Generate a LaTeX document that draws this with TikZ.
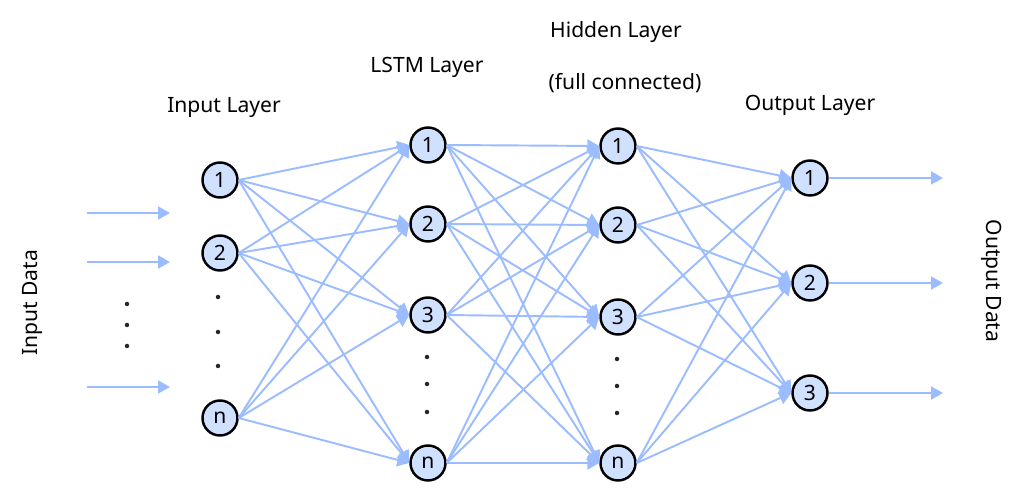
\documentclass[tikz,border=0pt]{standalone}
\usepackage{fontspec}
\setmainfont{Noto Sans}
\usetikzlibrary{arrows.meta}
\definecolor{linkblue}{RGB}{155,188,255}
\definecolor{cellfill}{RGB}{208,224,255}
\tikzstyle{neuron} = [circle, draw=black, line width=1.4pt, fill=cellfill, minimum size=0.7cm, inner sep=0pt, font=\fontsize{12}{14}\selectfont]
\tikzstyle{link} = [draw=linkblue, line width=1.1pt, -{Triangle[length=0.24cm,width=0.26cm]}]
\tikzstyle{vdot} = [circle, fill=black!85, inner sep=0pt, minimum size=0.09cm]
\tikzstyle{title} = [font=\fontsize{12}{14}\selectfont]

\begin{document}
\begin{tikzpicture}[x=0.02cm, y=-0.02cm]
\useasboundingbox (0,0) rectangle (1025,499);

% Titles
\node (tin) [title] at (224,108) {Input Layer};
\node (tls) [title] at (427,67) {LSTM Layer};
\node (thd) [title] at (616,32) {Hidden Layer};
\node (thd2) [title] at (625,83) {(full connected)};
\node (tout) [title] at (810,105) {Output Layer};
\node (indata) [title, rotate=90] at (33,303) {Input Data};
\node (outdata) [title, rotate=-90] at (992,281) {Output Data};

% Input layer
\node (in1) [neuron] at (220,180) {1};
\node (in2) [neuron] at (220,253) {2};
\node (inn) [neuron] at (220,418) {n};
\node (ind1) [vdot] at (218,297) {};
\node (ind2) [vdot] at (218,332) {};
\node (ind3) [vdot] at (218,366) {};

% LSTM layer
\node (ls1) [neuron] at (428,145) {1};
\node (ls2) [neuron] at (428,224) {2};
\node (ls3) [neuron] at (428,315) {3};
\node (lsn) [neuron] at (428,463) {n};
\node (lsd1) [vdot] at (427,357) {};
\node (lsd2) [vdot] at (427,384) {};
\node (lsd3) [vdot] at (427,412) {};

% Hidden layer
\node (hd1) [neuron] at (618,146) {1};
\node (hd2) [neuron] at (618,225) {2};
\node (hd3) [neuron] at (618,317) {3};
\node (hdn) [neuron] at (618,463) {n};
\node (hdd1) [vdot] at (617,359) {};
\node (hdd2) [vdot] at (617,386) {};
\node (hdd3) [vdot] at (617,413) {};

% Output layer
\node (out1) [neuron] at (810,178) {1};
\node (out2) [neuron] at (810,283) {2};
\node (out3) [neuron] at (810,393) {3};

% Input data
\coordinate (d1s) at (87,213);
\coordinate (d1e) at (170,213);
\coordinate (d2s) at (87,262);
\coordinate (d2e) at (170,262);
\coordinate (d3s) at (87,387);
\coordinate (d3e) at (170,387);
\node (dd1) [vdot] at (127,304) {};
\node (dd2) [vdot] at (127,325) {};
\node (dd3) [vdot] at (127,346) {};
\draw [link] (d1s) -- (d1e);
\draw [link] (d2s) -- (d2e);
\draw [link] (d3s) -- (d3e);

% Output data
\coordinate (o1e) at (943,178);
\coordinate (o2e) at (943,283);
\coordinate (o3e) at (943,393);
\draw [link] (out1.east) -- (o1e);
\draw [link] (out2.east) -- (o2e);
\draw [link] (out3.east) -- (o3e);

% Connections
\foreach \a in {in1,in2,inn}
  \foreach \b in {ls1,ls2,ls3,lsn}
    \draw [link] (\a.east) -- (\b.west);
\foreach \a in {ls1,ls2,ls3,lsn}
  \foreach \b in {hd1,hd2,hd3,hdn}
    \draw [link] (\a.east) -- (\b.west);
\foreach \a in {hd1,hd2,hd3,hdn}
  \foreach \b in {out1,out2,out3}
    \draw [link] (\a.east) -- (\b.west);

\end{tikzpicture}
\end{document}
